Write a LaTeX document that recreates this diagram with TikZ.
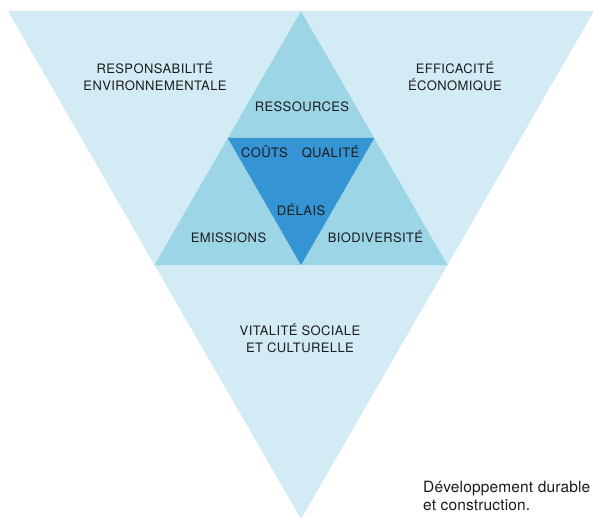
\documentclass[tikz,border=0pt]{standalone}
\usepackage{fontspec}
\setmainfont{TeX Gyre Heros}
\usetikzlibrary{calc}

\definecolor{paleblue}{RGB}{211,235,244}
\definecolor{midblue}{RGB}{155,213,230}
\definecolor{darkblue}{RGB}{53,148,211}
\definecolor{inkgray}{RGB}{28,28,30}

\tikzset{
    facet/.style={fill=#1, draw=none},
    caps/.style={font=\fontsize{13}{16.5}\selectfont\addfontfeature{LetterSpace=3}, text=inkgray, anchor=base, inner sep=0pt, align=center},
    legend/.style={font=\fontsize{15.5}{18}\selectfont\addfontfeature{LetterSpace=1}, text=inkgray, anchor=base west, inner sep=0pt, align=left}
}

\begin{document}
\begin{tikzpicture}[x=1pt, y=-1pt]
        % page frame
        \useasboundingbox[fill=white] (0,0) rectangle (593,518);
        \clip (0,0) rectangle (593,518);
        % corners of the big triangle
        \coordinate (topL) at (8,11);
        \coordinate (topR) at (594,11);
        \coordinate (apex) at (301,11);
        \coordinate (baseL) at (154.5,265);
        \coordinate (baseR) at (447.5,265);
        \coordinate (tip) at (301,519);
        % corners of the inner triangle
        \coordinate (midL) at ($(apex)!0.5!(baseL)$);
        \coordinate (midR) at ($(apex)!0.5!(baseR)$);
        \coordinate (midB) at ($(baseL)!0.5!(baseR)$);

        % outer triangles
        \fill[facet=paleblue] (topL) -- (apex) -- (baseL) -- cycle;
        \fill[facet=paleblue] (apex) -- (topR) -- (baseR) -- cycle;
        \fill[facet=paleblue] (baseL) -- (baseR) -- (tip) -- cycle;
        % middle triangle and its core
        \fill[facet=midblue] (apex) -- (baseR) -- (baseL) -- cycle;
        \fill[facet=darkblue] (midL) -- (midR) -- (midB) -- cycle;

        % labels (base anchor sits on the last line)
        \node[caps] (envir) at (155,90.5) {RESPONSABILITÉ\\ENVIRONNEMENTALE};
        \node[caps] (econ) at (455,90.5) {EFFICACITÉ\\ÉCONOMIQUE};
        \node[caps] (ressources) at (302,111.5) {RESSOURCES};
        \node[caps] (couts) at (264.5,158) {COÛTS};
        \node[caps] (qualite) at (330.5,158) {QUALITÉ};
        \node[caps] (delais) at (301,215.5) {DÉLAIS};
        \node[caps] (emissions) at (228.5,242.5) {EMISSIONS};
        \node[caps] (biodiv) at (375.5,242.5) {BIODIVERSITÉ};
        \node[caps] (social) at (300,352) {VITALITÉ SOCIALE\\ET CULTURELLE};
        % legend
        \node[legend] (legendtxt) at (423,510.5) {Développement durable\\et construction.};
    \end{tikzpicture}
\end{document}
